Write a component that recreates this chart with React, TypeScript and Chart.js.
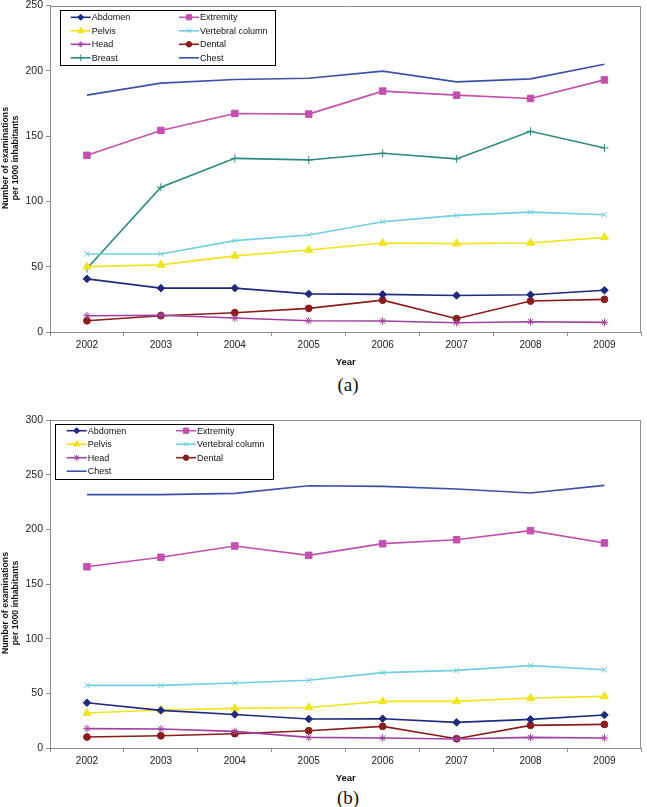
import React, { useEffect, useRef } from 'react';
import { Chart, registerables } from 'chart.js';
import { drawPoint } from 'chart.js/helpers';

Chart.register(...registerables);

const years = ['2002', '2003', '2004', '2005', '2006', '2007', '2008', '2009'];
const yTicksA = [0, 50, 100, 150, 200, 250];
const yTicksB = [0, 50, 100, 150, 200, 250, 300];

// Chart (a)
const abdomenA = [40.7, 33.6, 33.6, 29.2, 28.8, 28.0, 28.5, 32.0];
const extremityA = [135.3, 154.4, 167.4, 166.9, 184.5, 181.4, 178.9, 193.1];
const pelvisA = [50.1, 51.4, 58.3, 62.8, 68.2, 67.7, 68.2, 72.5];
const vertebralA = [59.8, 59.8, 70.0, 74.3, 84.5, 89.3, 91.8, 89.8];
const headA = [12.5, 12.8, 10.7, 8.6, 8.4, 7.1, 7.9, 7.4];
const dentalA = [8.6, 12.5, 14.8, 18.1, 24.4, 10.2, 23.7, 25.0];
const breastA = [48.6, 110.9, 133.0, 131.8, 136.9, 132.6, 153.7, 141.0];
const chestA = [181.4, 190.6, 193.4, 194.4, 199.8, 191.6, 193.9, 205.1];

// Chart (b)
const abdomenB = [41.4, 34.4, 30.7, 26.5, 26.8, 23.4, 26.2, 30.2];
const extremityB = [165.8, 174.4, 184.8, 176.2, 186.9, 190.5, 198.8, 187.5];
const pelvisB = [32.0, 34.8, 36.2, 37.1, 42.6, 42.6, 45.7, 47.2];
const vertebralB = [57.3, 57.3, 59.4, 61.9, 68.9, 71.0, 75.3, 71.6];
const headB = [17.7, 17.4, 15.2, 9.7, 9.1, 8.2, 9.7, 9.1];
const dentalB = [10.0, 11.2, 13.1, 15.8, 19.8, 8.5, 20.7, 21.6];
const chestB = [231.7, 231.7, 232.9, 239.9, 239.3, 236.9, 233.2, 240.2];

const seriesNames = ['Abdomen', 'Extremity', 'Pelvis', 'Vertebral column', 'Head', 'Dental', 'Breast', 'Chest'];
const yTitleLines = ['Number of examinations', 'per 1000 inhabitants'];
const xTitle = 'Year';

const FONT = "Arial, 'Liberation Sans', Helvetica, sans-serif";
const AXIS = '#8c8c8c';

const STYLE: Record<string, { color: string; point: string | false; r: number }> = {
  Abdomen: { color: '#1f2a7e', point: 'rectRot', r: 3.8 },
  Extremity: { color: '#c34faf', point: 'rect', r: 4.6 },
  Pelvis: { color: '#f0e41c', point: 'triangle', r: 4.6 },
  'Vertebral column': { color: '#6fcfe0', point: 'crossRot', r: 3.8 },
  Head: { color: '#a040a0', point: 'star', r: 3.8 },
  Dental: { color: '#8a1c1c', point: 'circle', r: 3.4 },
  Breast: { color: '#2b8a82', point: 'cross', r: 4 },
  Chest: { color: '#3d50a8', point: false, r: 0 },
};

function makeDataset(name: string, data: number[]) {
  const s = STYLE[name];
  return {
    label: name,
    data,
    borderColor: s.color,
    backgroundColor: s.color,
    borderWidth: 1.6,
    pointStyle: s.point,
    pointRadius: s.r,
    pointBackgroundColor: s.color,
    pointBorderColor: s.color,
    pointBorderWidth: 1,
    tension: 0,
    fill: false,
  };
}

const framePlugin = {
  id: 'frameLegend',
  afterDraw(chart: any, _args: any, opts: any) {
    const ctx: CanvasRenderingContext2D = chart.ctx;
    const a = chart.chartArea;
    ctx.save();
    // plot border (top and right)
    ctx.strokeStyle = AXIS;
    ctx.lineWidth = 1;
    ctx.beginPath();
    ctx.moveTo(Math.round(a.left) + 0.5, Math.round(a.top) + 0.5);
    ctx.lineTo(Math.round(a.right) - 0.5, Math.round(a.top) + 0.5);
    ctx.lineTo(Math.round(a.right) - 0.5, Math.round(a.bottom) + 0.5);
    ctx.stroke();

    // legend box
    const L = opts.box;
    ctx.fillStyle = '#ffffff';
    ctx.fillRect(L.x, L.y, L.w, L.h);
    ctx.strokeStyle = '#000000';
    ctx.strokeRect(L.x + 0.5, L.y + 0.5, L.w, L.h);
    chart.data.datasets.forEach((ds: any, i: number) => {
      const col = i % 2;
      const row = Math.floor(i / 2);
      const x0 = L.x + (col ? L.col2 : L.col1);
      const y = L.y + L.row0 + row * L.rowH;
      ctx.strokeStyle = ds.borderColor;
      ctx.lineWidth = 1.6;
      ctx.beginPath();
      ctx.moveTo(x0, y);
      ctx.lineTo(x0 + 20, y);
      ctx.stroke();
      if (ds.pointStyle) {
        ctx.fillStyle = ds.pointBackgroundColor;
        ctx.strokeStyle = ds.pointBorderColor;
        ctx.lineWidth = 1;
        drawPoint(ctx, { pointStyle: ds.pointStyle, rotation: 0, radius: ds.pointRadius * 0.8, borderWidth: 1 }, x0 + 10, y);
      }
      ctx.fillStyle = '#111111';
      ctx.font = `9px ${FONT}`;
      ctx.textBaseline = 'middle';
      ctx.textAlign = 'left';
      ctx.fillText(ds.label, x0 + 21, y + 0.5);
    });

    // y-axis title
    const T = opts.yTitle;
    ctx.fillStyle = '#111111';
    ctx.font = `bold 8.75px ${FONT}`;
    ctx.textAlign = 'center';
    ctx.textBaseline = 'middle';
    T.lines.forEach((line: string, i: number) => {
      ctx.save();
      ctx.translate(T.xs[i], T.cy);
      ctx.rotate(-Math.PI / 2);
      ctx.fillText(line, 0, 0);
      ctx.restore();
    });
    ctx.restore();
  },
};

type Props = {
  top: number;
  height: number;
  padTop: number;
  yTicks: number[];
  datasets: any[];
  box: any;
  yTitleCy: number;
};

function LineChart({ top, height, padTop, yTicks, datasets, box, yTitleCy }: Props) {
  const ref = useRef<HTMLCanvasElement>(null);
  useEffect(() => {
    const chart = new Chart(ref.current as HTMLCanvasElement, {
      type: 'line',
      data: { labels: years, datasets },
      plugins: [framePlugin as any],
      options: {
        animation: false,
        responsive: false,
        devicePixelRatio: 1,
        layout: { padding: { top: padTop, right: 1, left: 0, bottom: 0 } },
        plugins: {
          legend: { display: false },
          tooltip: { enabled: false },
          frameLegend: {
            box,
            yTitle: { lines: yTitleLines, xs: [5.5, 16], cy: yTitleCy },
          },
        } as any,
        scales: {
          x: {
            type: 'category',
            offset: true,
            grid: { offset: true, drawOnChartArea: false, tickLength: 4, color: AXIS, lineWidth: 1 },
            border: { color: AXIS, width: 1 },
            ticks: { font: { family: FONT, size: 10 }, color: '#222', padding: 3, maxRotation: 0, autoSkip: false },
            title: {
              display: true,
              text: xTitle,
              font: { family: FONT, size: 9.5, weight: 'bold' },
              color: '#111',
              padding: { top: 0, bottom: 2 },
            },
            afterFit: (s: any) => {
              s.height = 38;
              s.paddingLeft = 0;
              s.paddingRight = 0;
            },
          },
          y: {
            min: yTicks[0],
            max: yTicks[yTicks.length - 1],
            afterBuildTicks: (s: any) => {
              s.ticks = yTicks.map((v) => ({ value: v }));
            },
            grid: { drawOnChartArea: false, tickLength: 4, color: AXIS, lineWidth: 1 },
            border: { color: AXIS, width: 1 },
            ticks: { font: { family: FONT, size: 10.5 }, color: '#222', padding: 3 },
            afterFit: (s: any) => {
              s.width = 50;
              s.paddingTop = 0;
              s.paddingBottom = 0;
            },
          },
        },
      } as any,
    });
    return () => chart.destroy();
  }, []);
  return (
    <div style={{ position: 'absolute', left: 0, top, width: 647, height }}>
      <canvas ref={ref} width={647} height={height} style={{ display: 'block', width: 647, height }} />
    </div>
  );
}

const captionStyle = (top: number): React.CSSProperties => ({
  position: 'absolute',
  left: 0,
  width: 696,
  top,
  textAlign: 'center',
  fontFamily: "'Times New Roman', 'Liberation Serif', serif",
  fontSize: 19,
  lineHeight: '22px',
  color: '#111',
});

export default function App() {
  const dsA = [
    makeDataset(seriesNames[0], abdomenA),
    makeDataset(seriesNames[1], extremityA),
    makeDataset(seriesNames[2], pelvisA),
    makeDataset(seriesNames[3], vertebralA),
    makeDataset(seriesNames[4], headA),
    makeDataset(seriesNames[5], dentalA),
    makeDataset(seriesNames[6], breastA),
    makeDataset(seriesNames[7], chestA),
  ];
  const dsB = [
    makeDataset(seriesNames[0], abdomenB),
    makeDataset(seriesNames[1], extremityB),
    makeDataset(seriesNames[2], pelvisB),
    makeDataset(seriesNames[3], vertebralB),
    makeDataset(seriesNames[4], headB),
    makeDataset(seriesNames[5], dentalB),
    makeDataset(seriesNames[7], chestB),
  ];
  return (
    <div style={{ position: 'absolute', left: 0, top: 0, width: 647, height: 807, background: '#fff', overflow: 'hidden' }}>
      <LineChart
        top={0}
        height={370}
        padTop={4}
        yTicks={yTicksA}
        datasets={dsA}
        box={{ x: 60, y: 10, w: 215, h: 55, col1: 10.7, col2: 119, row0: 7.3, rowH: 13.5 }}
        yTitleCy={158}
      />
      <div style={captionStyle(374)}>(a)</div>
      <LineChart
        top={410}
        height={376}
        padTop={10}
        yTicks={yTicksB}
        datasets={dsB}
        box={{ x: 55, y: 14, w: 218, h: 55, col1: 11.7, col2: 121, row0: 6.7, rowH: 13.5 }}
        yTitleCy={193}
      />
      <div style={captionStyle(787)}>(b)</div>
    </div>
  );
}
